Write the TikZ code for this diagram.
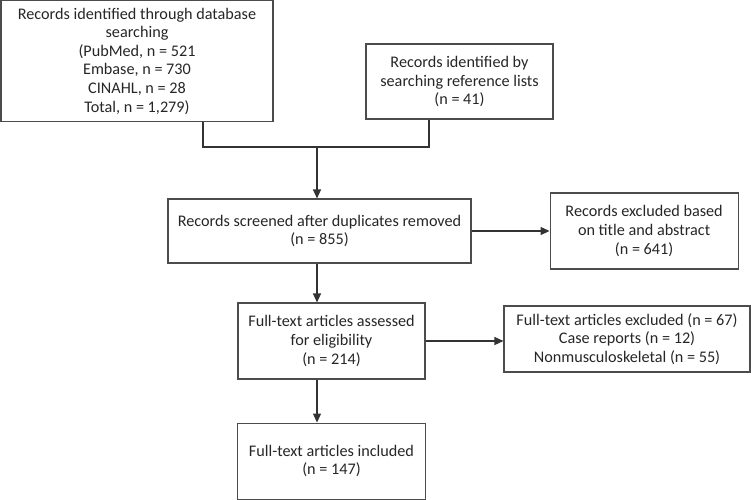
\documentclass[tikz,border=0pt]{standalone}
\usepackage{fontspec}
\setmainfont{Carlito}
\usetikzlibrary{arrows.meta, positioning}

\begin{document}
\begin{tikzpicture}[
        x=1pt, y=-1pt,
        every node/.style={font=\fontsize{16.2}{18.6}\selectfont, text=black!85},
        box/.style={rectangle, draw=black!70, line width=1.1pt, align=center, inner sep=0pt},
        line/.style={draw=black!80, line width=1.1pt},
        arrow/.style={line, -{Triangle[length=9pt, width=8pt]}}
    ]
    \useasboundingbox (0,0) rectangle (751,499);

    % Identification
    \node[box, minimum width=272pt, minimum height=121pt] (db) at (137,61)
        {Records identified through database\\ searching\\ (PubMed, n = 521\\ Embase, n = 730\\ CINAHL, n = 28\\ Total, n = 1,279)};
    \node[box, minimum width=187pt, minimum height=75pt] (refs) at (459.5,81.5)
        {Records identified by\\ searching reference lists\\ (n = 41)};

    % Screening
    \node[box, minimum width=303pt, minimum height=64pt] (screen) at (319.5,231)
        {Records screened after duplicates removed\\ (n = 855)};
    \node[box, minimum width=188pt, minimum height=76pt, right=78pt of screen] (excl1)
        {Records excluded based\\ on title and abstract\\ (n = 641)};

    % Eligibility
    \node[box, minimum width=187pt, minimum height=76pt] (full) at (331.5,341)
        {Full-text articles assessed\\ for eligibility\\ (n = 214)};
    \node[box, minimum width=246pt, minimum height=66pt] (excl2) at (627,339)
        {Full-text articles excluded (n = 67)\\ Case reports (n = 12)\\ Nonmusculoskeletal (n = 55)};

    % Included
    \node[box, minimum width=188pt, minimum height=76pt, below=43pt of full] (incl)
        {Full-text articles included\\ (n = 147)};

    % Connectors
    \coordinate (jl) at (203,147);
    \coordinate (jr) at (429,147);
    \coordinate (j) at (317,147);
    \draw[line] (jl |- db.south) -- (jl) -- (jr) -- (jr |- refs.south);
    \draw[arrow] (j) -- (j |- screen.north);
    \draw[arrow] (screen.east) -- (excl1.west);
    \draw[arrow] (j |- screen.south) -- (j |- full.north);
    \draw[arrow] (full.east) -- (full.east -| excl2.west);
    \draw[arrow] (j |- full.south) -- (j |- incl.north);
\end{tikzpicture}
\end{document}
